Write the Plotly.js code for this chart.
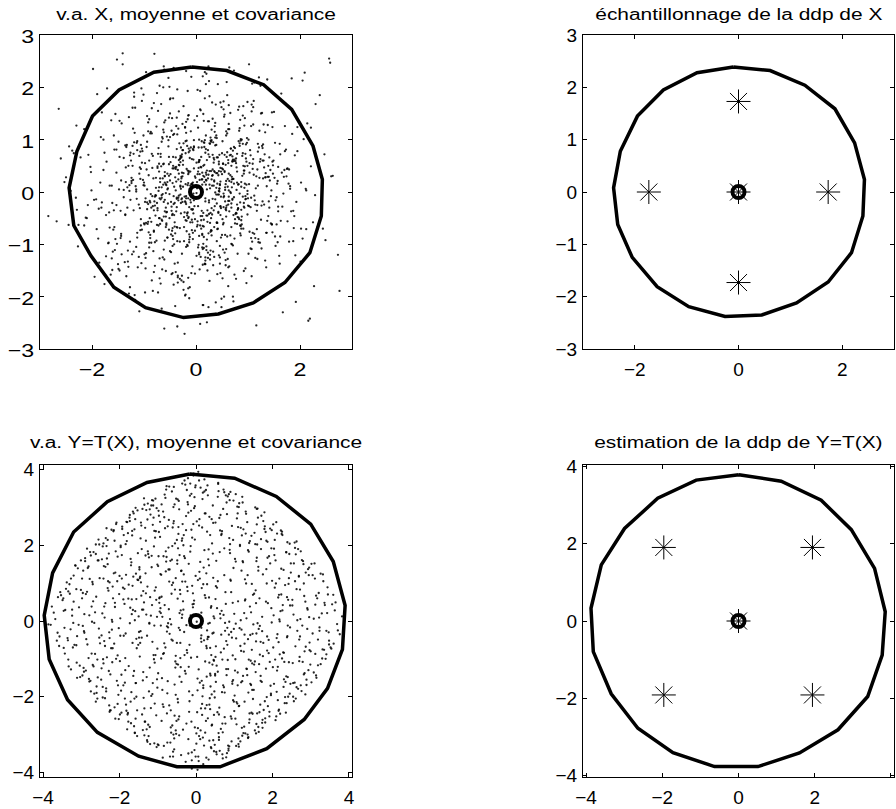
<!DOCTYPE html>
<html>
<head>
<meta charset="utf-8">
<script src="https://cdn.plot.ly/plotly-3.0.1.min.js"></script>
<style>
html,body{margin:0;padding:0;background:#fff;}
#plot{width:896px;height:809px;}
</style>
</head>
<body>
<div id="plot"></div>
<script>
// ---------- titles ----------
const titles = [
  "v.a. X, moyenne et covariance",
  "échantillonnage de la ddp de X",
  "v.a. Y=T(X), moyenne et covariance",
  "estimation de la ddp de Y=T(X)"
];

// ---------- panel 1 : samples of X ----------
const sampleX1 = [
0.12,-0.85,1.34,-0.41,0.67,-1.92,0.03,0.88,-0.27,1.05,-1.48,0.55,-0.66,2.21,-0.09,0.36,-1.13,0.79,-0.58,1.61,
-0.33,0.47,-1.27,0.92,-0.14,1.76,-0.71,0.21,-2.35,0.64,-0.48,1.18,0.06,-0.95,0.39,-1.66,0.83,-0.22,1.42,-0.61,
0.28,-1.04,0.73,-0.17,2.05,-0.79,0.44,-1.39,0.15,0.97,-0.52,1.25,-0.03,-1.81,0.59,-0.36,1.09,-0.88,0.31,-2.64,
0.81,-0.25,1.53,-0.69,0.08,-1.21,0.62,-0.44,1.87,-0.11,0.37,-0.97,0.71,-1.58,0.19,1.12,-0.63,0.49,-1.35,2.47,
-0.07,0.94,-0.54,1.31,-1.73,0.26,-0.39,0.68,-1.01,0.14,1.69,-0.82,0.42,-0.19,1.02,-1.44,0.57,-2.12,0.86,-0.31,
0.35,-0.76,1.19,-0.05,0.63,-1.29,2.38,-0.58,0.11,-0.93,1.46,-0.34,0.77,-1.62,0.02,0.51,-1.07,1.84,-0.46,0.24,
-1.15,0.69,-0.28,1.37,-0.87,0.18,-1.95,0.91,-0.12,0.46,-0.67,1.58,-1.33,0.33,-0.49,0.99,-0.21,2.02,-0.74,0.09,
1.28,-0.37,0.54,-1.52,0.72,-0.15,1.11,-0.99,0.29,-2.41,0.85,-0.56,1.66,-0.08,0.41,-1.24,0.17,-0.72,1.39,-0.43,
0.61,-1.37,0.05,0.93,-0.62,1.73,-0.29,0.38,-1.09,2.29,-0.16,0.74,-0.91,0.27,-1.78,1.07,-0.45,0.56,-0.02,-1.19,
0.43,1.49,-0.81,0.16,-0.53,1.02,-1.41,0.66,-0.24,2.73,-0.68,0.32,1.22,-1.06,0.07,-0.35,0.84,-1.87,0.52,-0.13,
-0.61,0.25,1.81,-0.42,0.96,-1.17,0.13,-0.77,1.33,-0.06,0.48,-2.03,0.71,-0.32,1.14,-0.94,0.22,1.57,-0.55,0.04,
-1.26,0.58,-0.18,0.89,-1.64,0.34,1.08,-0.47,0.19,-0.86,1.95,-0.23,0.65,-1.31,0.45,-0.04,1.26,-0.73,2.16,-0.39,
0.76,-0.13,-1.02,0.53,1.41,-0.64,0.10,-1.49,0.87,-0.30,0.62,1.71,-0.89,0.23,-0.57,1.16,-2.27,0.40,-0.19,0.95,
-0.45,1.03,-0.70,0.30,-1.12,2.11,-0.26,0.78,-0.50,1.47,-1.84,0.14,0.57,-0.37,0.98,-1.00,0.26,-0.62,1.29,-0.09,
0.50,-0.96,1.62,-0.20,0.37,-1.57,0.82,-0.35,1.21,-0.74,0.06,-2.19,0.69,1.38,-0.51,0.20,-1.05,0.60,-0.28,1.85,
-0.83,0.16,-1.36,0.73,0.01,-0.59,1.52,-1.22,0.44,-0.15,0.90,-0.41,2.56,-0.92,0.35,-1.69,0.58,-0.07,1.10,-0.65,
0.27,-1.14,0.79,-0.24,1.93,-0.60,0.12,-0.98,0.64,-1.71,1.17,-0.38,0.47,-0.10,1.55,-0.84,0.30,-1.43,0.72,-2.50,
1.00,-0.52,0.18,-1.28,0.84,-0.08,1.43,-0.66,0.39,-0.28,2.34,-1.08,0.55,-0.44,0.11,1.24,-0.78,0.67,-1.60,0.21,
-0.14,0.87,-1.90,0.42,-0.69,1.14,-0.31,0.70,-1.18,0.09,1.67,-0.55,0.28,-0.99,1.36,-0.17,0.53,-2.08,0.94,-0.40,
0.66,-0.27,1.09,-0.79,0.32,-1.45,0.58,2.42,-0.62,0.15,-1.03,0.80,-0.12,1.28,-0.47,0.40,-1.76,0.92,-0.20,0.46,
-0.90,1.58,-0.36,0.62,-1.20,0.07,0.99,-0.57,1.72,-0.04,-1.53,0.50,-0.76,0.24,1.03,-1.32,0.37,-0.25,2.01,-0.68,
0.19,-0.71,1.27,-0.16,0.48,-2.31,0.75,-0.43,1.51,-0.92,0.31,-0.05,0.87,-1.15,0.13,1.79,-0.60,0.56,-1.47,0.03,
1.12,-0.38,0.60,-1.06,0.22,1.90,-0.83,0.41,-0.22,0.96,-1.67,0.70,-0.49,1.35,-0.11,-1.23,0.68,-0.30,0.17,-2.84,
-0.52,0.85,-0.15,1.20,-1.39,0.46,-0.64,2.25,-0.06,0.59,-0.97,0.30,1.48,-0.70,0.05,-1.82,0.78,-0.33,1.06,0.23,
-0.18,0.71,-1.10,0.39,1.64,-0.45,0.93,-1.55,0.10,-0.80,1.30,-0.26,0.52,-2.15,0.82,-0.58,0.15,1.47,-0.94,0.63,
0.34,-1.30,0.07,1.05,-0.65,0.28,-1.98,0.73,-0.40,1.60,-0.14,0.51,-1.07,0.90,-0.23,2.12,-0.85,0.45,-0.60,1.19,
-1.44,0.55,-0.09,0.81,-0.48,1.40,-1.26,0.20,0.64,-0.73,1.78,-0.37,0.16,-1.61,0.99,-0.19,0.42,-0.96,2.63,-0.27,
0.89,-0.60,0.25,-1.45,1.15,-0.02,0.70,-0.88,1.88,-0.50,0.36,-1.19,0.61,-0.16,1.44,-2.44,0.08,0.77,-0.42,1.01,
-0.75,0.14,1.55,-0.33,0.58,-1.13,0.26,-0.70,1.07,-1.86,0.47,-0.11,0.95,-0.55,2.09,-0.29,0.68,-1.34,0.33,-0.05,
0.44,-1.59,0.86,-0.21,1.33,-0.81,0.04,-0.45,1.70,-1.04,0.53,-0.30,0.23,-2.22,0.79,-0.63,1.23,0.12,-1.28,0.57,
-0.24,1.17,-0.63,0.08,1.91,-1.35,0.42,-0.88,0.19,-0.03,0.74,-1.61,0.31,2.33,-0.47,0.96,-0.12,-1.09,0.55,-0.36,
0.83,-0.19,1.28,-2.07,0.04,0.61,-0.75,1.44,-0.29,0.17,-1.22,0.68,-0.52,1.06,0.26,-1.83,0.47,-0.08,2.58,-0.91,
-0.40,0.33,-1.47,0.92,-0.15,1.63,-0.58,0.11,-0.98,0.79,0.02,-0.34,1.19,-2.29,0.50,-0.70,1.37,-0.22,0.14,-1.13,
0.60,-0.84,0.29,1.76,-0.45,-1.04,0.87,-0.17,0.38,-1.68,1.11,-0.60,0.06,0.73,-2.45,0.45,-0.27,1.52,-0.79,0.21,
-1.31,0.52,-0.10,0.98,-0.66,0.24,2.14,-0.38,0.70,-1.17,0.35,-0.02,1.25,-0.87,0.16,-1.56,0.63,-0.31,1.02,-0.50,
0.18,-1.76,0.77,-0.26,1.39,-0.09,0.48,-0.95,1.68,-0.44,0.09,-1.25,0.57,2.02,-0.61,0.27,-0.11,0.85,-1.39,0.40,
-0.67,1.08,-0.21,0.37,-2.60,0.62,-0.42,1.21,0.03,-0.81,1.58,-0.14,0.46,-1.04,0.90,-0.36,-1.91,0.30,0.74,-0.05,
1.46,-0.55,0.13,-1.19,0.81,-0.32,0.54,2.27,-0.73,0.22,-0.46,1.13,-1.52,0.06,0.69,-0.16,1.33,-0.97,0.39,-0.28,
0.07,0.92,-1.06,0.44,-0.23,1.71,-0.62,0.35,-1.43,0.12,0.80,-0.51,2.49,-0.04,-0.85,0.58,-1.24,0.20,1.05,-0.40,
-0.13,0.67,-0.89,1.50,-0.35,0.05,-1.72,0.95,-0.18,0.41,1.22,-0.68,0.26,-0.07,-2.15,0.75,-0.43,1.87,-0.57,0.14,
0.32,-1.10,0.60,-0.06,1.34,-0.77,0.18,-0.39,0.99,-1.58,0.47,2.19,-0.25,0.64,-0.94,0.10,1.45,-1.29,0.28,-0.60,
-0.48,0.21,1.81,-0.92,0.36,-0.15,0.71,-2.38,0.53,-0.31,1.10,-0.74,0.09,1.61,-0.45,0.25,-1.06,0.50,-0.19,0.88,
0.94,-0.41,0.15,-1.53,0.62,0.01,-0.64,1.29,-0.20,2.60,-0.83,0.43,-1.16,0.31,-0.06,0.78,-1.49,0.19,-0.37,1.16,
-0.26,0.58,-1.21,0.05,1.95,-0.55,0.34,-0.16,0.86,-1.01,0.23,-0.71,1.40,-0.42,0.12,-2.02,0.66,1.07,-0.30,0.47,
0.11,-0.63,1.03,-0.28,0.49,-1.34,0.76,-0.09,-1.81,0.40,1.65,-0.50,0.20,-0.88,1.24,-0.13,0.56,-2.30,0.82,-0.35,
-0.90,0.30,-0.07,1.32,-0.60,0.15,0.91,-1.14,0.44,-0.24,2.07,-0.78,0.52,-0.01,-1.41,0.69,-0.33,1.18,-0.72,0.06,
0.72,-0.20,1.53,-0.49,0.27,-0.99,0.10,-1.63,0.84,-0.12,0.38,1.04,-0.56,0.20,-1.27,2.38,-0.66,0.45,-0.10,-0.81,
-0.34,1.26,-0.74,0.17,-0.05,0.63,-1.88,0.97,-0.39,0.29,-0.94,1.48,0.02,-0.58,0.81,-1.18,0.24,-0.19,1.74,-2.68,
0.55,-0.30,0.04,-1.00,1.12,-0.52,0.39,1.89,-0.82,0.13,-0.44,0.67,-1.36,0.93,-0.15,0.32,2.21,-0.69,0.07,-1.07,
-0.11,0.86,-1.55,0.58,-0.27,1.00,-0.47,0.14,1.36,-0.96,0.25,-0.62,0.71,-0.04,-1.73,1.56,-0.36,0.49,-0.86,0.18,
1.27,-0.68,0.36,-0.13,0.62,-2.10,0.83,-0.41,0.05,1.20,-1.05,0.27,-0.54,1.83,-0.20,0.44,-0.92,0.12,-0.29,0.95,
-0.57,0.09,1.46,-1.32,0.20,-0.37,0.92,-0.80,2.44,-0.14,0.53,-1.50,0.30,-0.65,0.07,1.10,-0.24,0.73,-1.96,0.41,
0.16,-0.98,0.68,-0.19,-1.24,0.51,1.75,-0.43,0.23,-0.75,0.99,-0.06,-1.62,0.35,-0.30,0.88,-0.53,2.05,0.03,-1.15,
-0.08,1.38,-0.50,0.77,-1.47,0.26,-0.20,0.59,-0.90,1.62,-0.38,0.13,-2.53,0.84,-0.66,0.41,1.07,-1.20,0.18,-0.45,
0.87,-0.25,0.46,-1.09,0.15,2.30,-0.79,0.64,-0.33,0.06,-1.36,0.97,-0.12,0.34,-0.61,1.31,-1.78,0.52,-0.17,0.70,
-1.22,0.40,-0.64,1.14,-0.10,0.57,-0.85,1.79,-0.26,0.21,-1.13,0.80,0.01,-0.46,1.47,-0.72,0.29,-1.53,0.64,-0.02,
0.25,-0.43,2.12,-0.70,0.48,-0.16,1.01,-1.27,0.37,-0.58,0.12,1.57,-0.94,0.66,-2.26,0.19,-0.35,0.90,-0.15,1.23,
-0.71,0.17,-1.66,0.53,-0.29,0.85,0.08,-0.51,1.30,-0.90,0.43,-0.21,0.62,1.92,-1.08,0.28,-0.04,-0.77,1.09,-0.37,
0.40,-1.44,0.79,-0.09,0.93,-0.62,0.11,-2.01,0.56,1.41,-0.34,0.24,-0.86,0.02,1.18,-0.53,0.68,-1.30,0.35,2.76,
-0.44,0.63,-0.14,1.06,-0.81,0.32,-1.20,0.47,-0.07,0.75,-1.57,1.35,-0.28,0.10,-0.66,0.91,-0.18,0.54,-1.01,0.22
];
const sampleY1 = [
-0.46,1.12,0.28,-1.37,0.83,-0.14,1.95,-0.62,0.37,-1.08,0.05,0.71,-2.23,0.49,-0.33,1.26,-0.78,0.18,-1.51,0.92,
0.61,-0.27,-1.82,0.35,1.47,-0.56,0.09,-0.91,0.74,2.38,-0.19,0.43,-1.16,0.86,-0.05,-0.68,1.63,-0.39,0.22,-1.29,
1.04,-0.72,0.16,-0.45,2.13,-1.41,0.58,-0.10,0.95,-1.74,0.31,-0.53,1.37,-0.20,0.67,-2.57,0.44,-0.88,0.12,1.59,
-0.31,0.80,-1.03,0.26,-0.64,1.21,-0.17,1.79,-0.94,0.39,-0.01,-1.46,0.62,-0.35,1.08,-0.80,0.53,-2.04,0.19,0.72,
-0.58,1.41,-0.22,0.47,-1.23,0.93,0.03,-0.67,1.86,-0.40,0.29,-1.13,0.66,-0.12,2.44,-0.84,0.15,-0.49,1.01,-1.66,
0.20,-0.93,0.77,-0.08,1.30,-1.94,0.41,-0.30,0.85,-0.61,1.52,-0.16,0.55,-1.27,0.07,0.97,-0.73,2.17,-0.44,0.33,
-1.05,0.24,0.68,-0.55,1.15,-0.18,-1.62,0.50,-0.86,0.13,1.68,-0.37,0.90,-1.40,0.34,-0.04,1.23,-0.70,0.46,-2.36,
0.84,-0.11,1.44,-0.99,0.25,-0.50,1.74,-1.19,0.40,0.02,-0.79,1.06,-0.28,0.63,-1.57,0.17,2.29,-0.64,0.50,-0.23,
0.10,-1.34,0.57,1.27,-0.47,0.81,-0.21,-2.11,0.69,-0.06,1.39,-0.89,0.32,-0.59,1.00,-1.09,0.45,0.04,-0.74,1.90,
-0.38,0.60,-1.53,0.19,0.99,-0.27,2.65,-0.83,0.36,-1.20,0.73,-0.13,1.17,-0.52,0.08,-1.73,0.88,-0.32,0.54,-0.96,
1.33,-0.42,0.11,-1.00,0.64,1.61,-0.65,0.27,-1.31,0.82,-0.09,0.48,-2.00,0.93,-0.24,1.45,-0.57,0.21,-0.87,0.39,
-0.15,1.08,-0.75,0.31,-1.58,0.56,2.07,-0.36,0.14,-0.97,1.24,-0.48,0.70,-1.12,0.01,0.87,-0.26,1.55,-2.46,0.44,
0.59,-0.81,0.23,1.73,-0.30,-1.25,0.47,0.96,-0.54,0.12,-1.80,0.78,-0.17,1.35,-0.63,0.30,-1.04,0.66,2.31,-0.08,
-0.69,0.37,-0.12,1.19,-1.44,0.06,0.80,-0.41,1.50,-0.77,0.18,-2.16,0.52,-0.29,0.94,-0.60,1.83,-1.10,0.26,-0.03,
0.45,-1.17,0.72,-0.20,1.04,-0.67,0.15,-1.63,2.19,-0.35,0.61,-0.92,0.09,1.28,-0.50,0.33,-1.36,0.76,-0.14,1.11,
-1.89,0.29,-0.44,0.86,-0.02,1.37,-0.85,0.50,-1.21,0.17,0.74,-0.58,2.55,-0.23,0.40,-0.98,1.16,-0.34,0.63,-1.48,
0.07,0.94,-0.61,1.64,-0.19,0.38,-1.06,0.55,-0.37,1.98,-0.71,0.20,-1.55,0.85,-0.10,0.46,-0.83,1.31,-2.09,0.28,
-0.26,0.67,-1.38,0.13,1.22,-0.53,0.42,-0.06,0.90,-1.69,0.58,-0.31,1.48,-0.90,0.24,2.03,-0.45,0.71,-1.14,0.05,
0.76,-0.34,1.87,-0.70,0.19,-1.26,0.63,-0.13,1.13,-0.46,-2.30,0.35,0.98,-0.62,0.11,-1.01,1.58,-0.25,0.49,-0.79,
0.32,-1.60,0.54,-0.09,1.40,-0.88,0.21,-0.40,2.40,-0.66,0.78,-1.18,0.06,0.60,-0.28,1.03,-1.76,0.41,-0.54,0.15,
-0.97,0.48,1.10,-0.24,0.73,-1.48,0.02,-0.60,1.69,-0.16,0.37,-0.82,1.25,-2.20,0.55,-0.30,0.89,0.10,-1.33,0.67,
0.23,-0.50,1.51,-1.03,0.39,-0.11,0.84,-1.77,0.27,1.16,-0.43,0.62,-0.70,0.05,2.21,-0.95,0.30,-0.18,1.36,-0.63,
-0.07,1.26,-0.85,0.44,-1.50,0.70,-0.27,0.16,-2.71,0.91,-0.39,0.59,1.79,-0.78,0.12,-1.19,0.50,-0.05,0.99,-0.46,
1.42,-0.20,0.34,-0.96,0.65,-1.37,1.02,-0.58,0.18,2.10,-0.12,-0.74,0.51,-1.65,0.85,-0.30,0.04,1.54,-0.88,0.26,
-0.55,0.79,-1.24,0.36,1.88,-0.42,0.08,-0.90,0.67,-0.18,1.29,-2.39,0.43,-0.64,0.97,0.15,-1.07,0.58,-0.33,1.66,
0.12,-1.43,0.61,-0.29,1.05,-0.76,2.35,-0.10,0.47,-1.22,0.83,-0.52,0.25,1.46,-0.94,0.03,-1.69,0.71,-0.37,0.92,
-0.80,0.38,-0.06,1.57,-1.15,0.29,0.75,-0.45,1.20,-1.92,0.16,-0.67,0.94,-0.21,0.50,-1.05,2.06,-0.59,0.31,-0.12,
0.69,-0.93,1.35,-0.36,0.07,-1.56,0.58,1.12,-0.69,0.22,-0.27,1.82,-1.28,0.41,-0.08,0.87,-2.52,0.64,-0.44,1.00,
-0.21,1.49,-0.62,0.35,-1.09,0.80,0.14,-0.50,1.67,-1.35,0.46,-0.15,0.73,-0.87,2.28,-0.41,0.19,-1.61,0.95,-0.03,
0.53,-0.72,0.98,-1.98,0.28,-0.35,1.23,-0.84,0.42,1.74,-0.59,0.10,-1.16,0.66,-0.24,2.00,-0.97,0.37,0.02,-1.40,
0.93,-0.36,0.14,1.58,-1.21,0.47,-0.05,-0.82,2.06,-0.27,0.62,-1.49,0.31,-0.68,1.17,-0.13,0.79,-2.28,0.40,-0.94,
-0.52,1.34,-0.18,0.71,-1.06,0.25,1.89,-0.60,0.06,-1.38,0.88,-0.30,0.53,-0.11,-1.70,1.05,-0.44,0.16,2.47,-0.77,
0.28,-1.14,0.67,-0.21,1.46,-0.55,-0.02,0.97,-1.92,0.39,-0.66,1.21,0.12,-0.34,0.74,-1.27,2.15,-0.09,0.50,-0.87,
1.12,-0.08,-0.73,0.45,-1.55,0.83,0.19,-0.41,1.67,-0.97,0.33,-0.15,0.58,2.32,-0.63,0.07,-1.18,0.94,-0.26,0.61,
-1.33,0.54,-0.20,1.03,0.09,-0.79,1.31,-0.37,0.68,-2.06,0.22,-0.52,1.50,-0.04,0.86,-1.11,0.35,-0.69,0.15,1.77,
-0.12,0.75,-1.66,0.30,-0.46,2.20,-0.87,0.43,-0.03,1.09,-1.24,0.60,-0.33,0.18,-2.61,0.92,-0.58,1.38,0.04,-0.22,
0.49,-0.95,1.24,-0.14,0.64,-1.44,0.10,0.85,-0.56,1.70,-0.28,0.37,-1.03,0.56,-0.09,1.96,-0.71,0.24,-1.58,0.80,
-0.62,0.19,-1.09,0.95,-0.32,0.51,-0.08,-1.80,0.73,-0.45,1.41,-0.16,2.53,-0.84,0.29,-0.39,1.14,-1.26,0.08,0.66,
0.34,-1.51,0.90,0.02,-0.67,1.26,-0.19,0.62,-1.19,0.14,-0.48,2.01,-0.92,0.45,1.60,-0.30,0.21,-1.04,0.70,-2.18,
-0.29,0.83,-0.50,1.53,-1.35,0.10,0.58,-0.14,0.98,-0.71,0.27,-1.75,0.40,-0.06,1.20,-0.60,2.37,-0.36,0.13,-0.99,
0.71,-0.24,1.85,-0.90,0.36,-0.07,-1.31,0.66,-0.43,1.08,0.20,-2.42,0.52,-0.17,0.96,-0.54,0.03,1.43,-1.12,0.31,
-0.81,0.41,0.06,-0.57,1.15,-1.64,0.25,0.79,-0.10,-0.95,1.62,-0.31,0.48,-1.37,0.17,2.12,-0.64,0.34,-0.23,1.00,
0.16,-0.66,1.36,-0.25,0.55,-1.22,-0.04,0.91,-1.96,0.30,0.69,-0.40,0.11,1.71,-0.78,0.47,-1.47,0.82,-0.13,-2.55,
1.30,-0.47,0.23,-1.01,0.78,0.05,-0.35,1.93,-0.65,0.13,-1.26,0.54,-0.18,1.11,-0.82,0.38,0.00,-1.61,0.69,-0.28,
-0.05,1.19,-0.76,0.29,-2.20,0.86,-0.42,0.15,1.52,-0.59,0.37,-1.13,2.26,-0.20,0.63,-0.91,0.09,1.27,-0.49,0.42,
0.60,-0.31,-1.42,0.72,0.18,-0.86,1.64,-0.13,0.40,-1.72,1.01,-0.06,-0.62,0.27,2.44,-1.00,0.52,-0.25,0.84,-1.19,
-0.44,0.97,-0.16,0.57,-1.29,0.12,-0.70,1.37,-0.03,0.65,-2.33,0.80,-0.38,0.22,-0.95,1.85,-0.53,0.06,1.16,-0.74,
0.24,-1.08,0.49,1.79,-0.41,0.03,-0.89,0.58,-1.53,0.96,-0.20,0.35,1.45,-0.67,0.14,-1.97,0.72,-0.08,0.30,-0.56,
-1.16,0.65,-0.27,0.18,2.09,-0.72,1.08,-0.46,0.26,-1.39,0.50,-0.02,0.89,-0.30,-1.84,0.43,1.23,-0.61,0.10,0.77,
0.05,-0.83,1.49,-0.35,0.72,-0.12,-1.57,0.31,-0.78,2.29,-0.16,0.54,-1.02,0.85,-0.44,0.16,-0.68,1.62,-0.30,-1.25,
0.88,-0.14,0.38,-2.03,0.61,-0.50,1.17,-0.21,0.46,-0.90,1.98,-1.20,0.07,-0.37,0.74,-0.05,1.33,-0.80,0.20,-1.46,
-0.39,1.56,-0.62,0.09,-1.11,0.82,-0.28,2.64,-0.70,0.40,-0.03,-1.38,0.99,-0.55,0.23,1.29,-1.87,0.59,-0.15,0.36,
0.52,-0.19,-0.99,1.13,0.27,-1.65,0.44,-0.08,0.80,-0.63,1.72,-0.33,0.12,-1.24,0.57,-0.47,2.18,-0.89,0.34,0.01,
-0.73,0.29,1.05,-0.40,-1.50,0.67,0.15,-0.26,1.39,-0.85,0.48,-2.16,0.19,0.93,-0.11,-0.59,1.54,-0.35,0.75,-1.03,
0.10,0.60,-1.25,0.35,-0.53,1.68,-0.96,0.21,-0.07,1.00,-0.43,0.14,-1.82,0.65,2.34,-0.24,0.42,-1.10,0.88,-0.15,
1.61,-0.58,0.26,-0.88,0.06,-1.30,0.73,0.43,-0.19,-2.49,0.97,-0.34,0.56,-0.74,1.24,0.02,-0.50,0.81,-1.42,0.30,
-0.20,0.45,-0.71,2.03,-0.31,0.13,-1.18,0.70,1.32,-0.47,0.24,-0.96,0.05,1.51,-0.63,0.37,-1.60,0.92,-0.12,0.58,
0.39,-1.37,0.12,-0.29,0.85,-0.64,1.93,-0.04,0.60,-1.06,0.32,-0.18,1.20,-2.10,0.47,-0.40,0.99,0.08,-0.78,1.42,
-0.94,0.22,0.73,-1.55,0.41,1.14,-0.36,0.03,-0.82,0.66,-0.11,2.40,-0.57,0.19,-1.28,0.87,-0.22,0.50,-0.67,-1.89,
0.67,-0.09,-0.48,1.26,-0.76,0.32,-1.14,1.71,0.14,-0.52,0.81,-1.44,0.26,-0.03,0.96,-0.70,0.44,-2.00,1.08,-0.35
];
const meanX = [0.0], meanY = [0.0];
const covX1 = [-0.08,0.59,1.30,1.84,2.25,2.43,2.41,2.19,1.71,1.10,0.43,-0.24,-0.97,-1.58,-2.02,-2.35,-2.44,-2.29,-1.99,-1.48,-0.81];
const covY1 = [2.39,2.32,2.05,1.58,0.88,0.24,-0.46,-1.16,-1.73,-2.12,-2.33,-2.40,-2.21,-1.82,-1.22,-0.64,0.08,0.78,1.45,1.95,2.29];

// ---------- panel 2 : sigma points of X ----------
const covX2 = [-0.10,0.61,1.28,1.86,2.24,2.43,2.40,2.18,1.73,1.12,0.45,-0.26,-0.96,-1.57,-2.05,-2.33,-2.41,-2.28,-1.95,-1.45,-0.80];
const covY2 = [2.39,2.32,2.04,1.59,0.94,0.24,-0.46,-1.16,-1.72,-2.12,-2.35,-2.38,-2.19,-1.81,-1.25,-0.62,0.08,0.78,1.45,1.95,2.28];
const sigmaX2 = [0, 1.73, -1.73, 0, 0];
const sigmaY2 = [0, 0, 0, 1.73, -1.73];

// ---------- panel 3 : samples of Y = T(X) ----------
const sampleX3 = [
0.12,-0.34,0.45,-0.08,0.27,-0.46,0.03,0.38,-0.21,0.16,-0.41,0.31,-0.13,0.49,-0.29,0.07,-0.37,0.22,-0.02,0.42,
-0.17,0.33,-0.44,0.09,0.24,-0.05,0.47,-0.26,0.14,-0.39,0.36,-0.11,0.19,-0.48,0.04,0.29,-0.31,0.41,-0.19,0.11,
0.02,-0.23,0.39,-0.43,0.18,-0.09,0.34,-0.36,0.26,-0.15,0.44,-0.01,0.21,-0.28,0.13,-0.47,0.06,0.32,-0.12,0.48,
-0.32,0.08,-0.06,0.37,-0.45,0.25,-0.18,0.43,-0.38,0.15,-0.24,0.01,0.28,-0.14,0.46,-0.04,0.35,-0.27,0.20,-0.42,
0.17,-0.07,0.40,-0.33,0.05,-0.49,0.30,-0.20,0.10,-0.40,0.23,-0.16,0.45,-0.03,0.37,-0.25,0.14,-0.44,0.28,-0.10,
-0.30,0.13,-0.47,0.41,-0.11,0.22,-0.36,0.04,0.47,-0.22,0.31,-0.03,0.19,-0.41,0.09,0.35,
0.56,-0.72,0.88,-0.61,0.95,-0.83,0.67,-0.98,0.74,-0.54,0.81,-0.90,0.63,-0.77,0.99,-0.66,0.52,-0.85,0.70,-0.59,
0.91,-0.69,0.60,-0.94,0.78,-0.51,0.86,-0.75,0.65,-0.88,0.53,-0.63,0.97,-0.80,0.71,-0.57,0.84,-0.96,0.58,-0.70,
0.76,-0.93,0.50,-0.65,0.89,-0.55,0.69,-0.86,0.93,-0.73,0.62,-0.99,0.80,-0.60,0.55,-0.81,0.73,-0.53,0.96,-0.68,
0.64,-0.87,0.82,-0.52,0.98,-0.74,0.59,-0.95,0.87,-0.62,0.72,-0.84,0.54,-0.71,0.92,-0.56,0.79,-0.90,0.66,-0.78,
0.83,-0.58,0.61,-0.92,0.51,-0.67,0.94,-0.79,0.68,-0.50,0.77,-0.97,0.57,-0.64,0.85,-0.89,0.74,-0.53,0.90,-0.76,
0.63,-0.82,0.97,-0.60,0.75,-0.91,0.52,-0.70,
1.07,-1.23,1.41,-1.12,1.29,-1.46,1.16,-1.35,1.02,-1.18,1.33,-1.05,1.48,-1.27,1.21,-1.42,1.11,-1.31,1.38,-1.08,
1.25,-1.40,1.13,-1.02,1.45,-1.20,1.36,-1.15,1.04,-1.33,1.19,-1.49,1.30,-1.09,1.44,-1.25,1.10,-1.37,1.27,-1.01,
1.46,-1.14,1.01,-1.44,1.22,-1.29,1.06,-1.38,1.34,-1.06,1.17,-1.21,1.40,-1.48,1.14,-1.03,1.32,-1.19,1.09,-1.35,
1.20,-1.47,1.39,-1.10,1.05,-1.26,1.47,-1.17,1.28,-1.41,1.12,-1.04,1.35,-1.22,1.03,-1.32,1.24,-1.13,1.43,-1.28,
1.15,-1.36,1.08,-1.21,1.37,-1.08,1.26,-1.45,1.18,-1.16,1.49,-1.39,1.00,-1.27,1.31,-1.11,1.42,-1.03,1.23,-1.30,
1.56,-1.73,1.88,-1.62,1.97,-1.84,1.68,-1.51,1.79,-1.95,1.61,-1.69,1.92,-1.58,1.75,-1.87,1.53,-1.78,1.84,-1.65,
1.71,-1.55,1.95,-1.81,1.64,-1.99,1.52,-1.71,1.86,-1.60,1.99,-1.76,1.59,-1.90,1.67,-1.53,1.81,-1.67,1.90,-1.83,
1.63,-1.94,1.77,-1.57,1.50,-1.72,1.94,-1.86,1.58,-1.63,1.73,-1.54,1.85,-1.80,1.69,-1.98,1.55,-1.66,1.80,-1.52,
1.96,-1.61,1.54,-1.89,1.74,-1.70,1.66,-1.56,1.91,-1.77,1.60,-1.97,1.83,-1.59,1.70,-1.85,1.57,-1.74,1.98,-1.64,
1.59,-1.82,1.87,-1.58,1.76,-1.93,1.65,-1.68,
2.05,-2.24,2.41,-2.13,2.32,-2.47,2.18,-2.02,2.28,-2.37,2.10,-2.19,2.45,-2.31,2.14,-2.42,2.22,-2.06,2.38,-2.27,
2.20,-2.12,2.48,-2.35,2.03,-2.44,2.30,-2.16,2.12,-2.03,2.43,-2.28,2.26,-2.40,2.08,-2.22,2.36,-2.09,2.16,-2.33,
2.46,-2.15,2.01,-2.38,2.25,-2.05,2.39,-2.46,2.17,-2.26,2.33,-2.11,2.06,-2.36,2.29,-2.48,2.11,-2.20,2.42,-2.01,
2.34,-2.07,2.19,-2.30,2.04,-2.42,2.27,-2.18,2.13,-2.34,2.40,-2.25,2.09,-2.14,2.44,-2.39,
2.56,-2.73,2.91,-2.62,2.84,-2.98,2.67,-2.53,2.78,-2.88,2.61,-2.70,2.95,-2.58,2.74,-2.93,2.52,-2.81,2.87,-2.66,
2.70,-2.55,2.82,-2.95,2.60,-2.76,2.99,-2.64,2.58,-2.85,2.76,-2.51,2.89,-2.72,2.63,-2.90,2.80,-2.60,2.96,-2.78,
2.65,-2.87,2.97,-2.68,2.54,-2.92,2.72,-2.57,2.86,-2.75,2.93,-2.62,2.59,-2.97,2.69,-2.80,2.53,-2.69,2.83,-2.54,
3.05,-3.18,3.37,-3.09,3.26,-3.44,3.12,-3.31,3.47,-3.03,3.21,-3.38,3.15,-3.24,3.41,-3.12,3.33,-3.49,3.08,-3.27,
3.29,-3.06,3.19,-3.35,3.02,-3.15,3.44,-3.21,3.10,-3.42,3.35,-3.01,3.23,-3.46,3.14,-3.30,3.48,-3.11,3.32,-3.20,
3.56,-3.62,3.71,-3.53,3.82,-3.77,3.60,-3.68,3.65,-3.86,3.54,-3.58,
-0.04,0.29,-0.37,0.15,-0.21,0.46,-0.12,0.34,-0.48,0.07,0.23,-0.30,0.41,-0.16,0.02,-0.43,0.18,-0.26,0.37,-0.09,
0.44,-0.19,0.06,-0.35,0.27,-0.01,0.49,-0.28,0.12,-0.45,0.32,-0.07,0.21,-0.40,0.09,0.38,-0.24,0.16,-0.47,0.26,
-0.14,0.35,-0.32,0.03,0.47,-0.22,0.13,-0.42,0.30,-0.05,0.19,-0.38,0.42,-0.11,0.25,-0.46,0.08,-0.29,0.36,-0.17,
0.11,-0.41,0.24,-0.02,0.40,-0.33,0.05,-0.18,0.45,-0.25,0.33,-0.08,0.17,-0.49,0.28,-0.13,0.39,-0.36,0.10,-0.20,
0.31,-0.06,0.48,-0.44,0.16,-0.27,0.37,-0.15,0.01,-0.34,0.22,-0.48,0.43,-0.10,0.14,-0.39,0.27,-0.03,0.35,-0.23,
0.19,-0.31,0.04,0.40,-0.46,0.29,-0.12,0.46,-0.36,0.08,-0.20,0.33,-0.01,0.24,-0.43,0.14,
-0.58,0.71,-0.92,0.60,-0.79,0.94,-0.66,0.83,-0.51,0.77,-0.98,0.54,-0.73,0.89,-0.62,0.67,-0.86,0.50,-0.70,0.96,
-0.84,0.57,-0.61,0.92,-0.53,0.74,-0.95,0.65,-0.77,0.52,-0.68,0.87,-0.56,0.79,-0.93,0.62,-0.72,0.99,-0.64,0.81,
0.69,-0.55,0.85,-0.99,0.58,-0.76,0.91,-0.63,0.73,-0.88,0.51,-0.80,0.97,-0.57,0.64,-0.91,0.78,-0.52,0.86,-0.67,
0.55,-0.90,0.75,-0.59,0.93,-0.71,0.61,-0.83,0.88,-0.54,0.70,-0.96,0.53,-0.74,0.82,-0.60,0.95,-0.78,0.66,-0.87,
0.98,-0.63,0.51,-0.85,0.72,-0.50,0.84,-0.69,0.60,-0.97,0.79,-0.56,0.90,-0.75,0.57,-0.82,0.68,-0.59,0.76,-0.94,
0.80,-0.65,0.59,-0.98,0.69,-0.53,0.87,-0.76,
-1.04,1.22,-1.43,1.11,-1.30,1.47,-1.15,1.34,-1.01,1.19,-1.36,1.06,-1.48,1.27,-1.20,1.41,-1.10,1.31,-1.39,1.08,
-1.26,1.39,-1.12,1.00,-1.46,1.21,-1.33,1.16,-1.05,1.35,-1.18,1.48,-1.29,1.09,-1.44,1.24,-1.09,1.37,-1.27,1.02,
-1.45,1.13,-1.00,1.45,-1.23,1.28,-1.07,1.38,-1.34,1.05,-1.16,1.20,-1.41,1.49,-1.13,1.04,-1.31,1.18,-1.08,1.36,
-1.21,1.46,-1.38,1.10,-1.06,1.26,-1.47,1.17,-1.28,1.42,-1.11,1.03,-1.35,1.23,-1.02,1.32,-1.24,1.12,-1.42,1.29,
-1.14,1.36,-1.09,1.21,-1.38,1.09,-1.25,1.44,-1.17,1.15,-1.49,1.40,-1.01,1.27,-1.32,1.12,-1.43,1.04,-1.22,1.30,
-1.57,1.74,-1.89,1.62,-1.96,1.83,-1.67,1.52,-1.80,1.94,-1.60,1.70,-1.93,1.57,-1.76,1.86,-1.54,1.79,-1.85,1.64,
-1.70,1.56,-1.94,1.80,-1.65,1.98,-1.51,1.72,-1.87,1.61,-1.99,1.75,-1.58,1.90,-1.68,1.54,-1.82,1.66,-1.91,1.84,
-1.62,1.93,-1.78,1.58,-1.50,1.73,-1.95,1.87,-1.59,1.63,-1.73,1.55,-1.84,1.81,-1.69,1.97,-1.56,1.67,-1.79,1.51,
-1.97,1.60,-1.53,1.88,-1.73,1.69,-1.66,1.57,-1.90,1.76,-1.61,1.96,-1.83,1.58,-1.71,1.85,-1.56,1.73,-1.98,1.63,
-1.60,1.82,-1.86,1.59,-1.77,1.92,-1.64,1.69,
-2.04,2.23,-2.40,2.14,-2.31,2.46,-2.19,2.02,-2.29,2.36,-2.11,2.18,-2.44,2.30,-2.15,2.41,-2.23,2.07,-2.37,2.26,
-2.21,2.11,-2.47,2.36,-2.02,2.45,-2.31,2.17,-2.13,2.04,-2.42,2.29,-2.27,2.39,-2.08,2.23,-2.35,2.10,-2.17,2.33,
-2.45,2.16,-2.00,2.38,-2.26,2.06,-2.38,2.47,-2.18,2.25,-2.34,2.12,-2.05,2.37,-2.28,2.48,-2.10,2.21,-2.43,2.02,
-2.33,2.08,-2.20,2.31,-2.05,2.43,-2.26,2.19,-2.12,2.35,-2.41,2.24,-2.09,2.15,-2.44,2.40,
-2.57,2.72,-2.92,2.63,-2.83,2.97,-2.68,2.54,-2.79,2.87,-2.62,2.71,-2.94,2.59,-2.75,2.92,-2.53,2.82,-2.88,2.67,
-2.71,2.56,-2.81,2.94,-2.61,2.77,-2.98,2.65,-2.58,2.84,-2.77,2.52,-2.90,2.73,-2.64,2.89,-2.79,2.61,-2.96,2.79,
-2.66,2.86,-2.96,2.69,-2.55,2.91,-2.73,2.58,-2.85,2.74,-2.93,2.63,-2.60,2.96,-2.70,2.81,-2.52,2.70,-2.84,2.55,
-3.04,3.17,-3.36,3.08,-3.27,3.43,-3.13,3.30,-3.46,3.02,-3.22,3.39,-3.16,3.23,-3.40,3.11,-3.34,3.48,-3.07,3.26,
-3.28,3.05,-3.20,3.36,-3.01,3.14,-3.43,3.22,-3.11,3.41,-3.34,3.00,-3.24,3.45,-3.13,3.31,-3.47,3.12,-3.33,3.19,
-3.57,3.63,-3.72,3.52,-3.80,3.76,-3.61,3.69,-3.64,3.87,-3.55,3.59
];
const sampleY3 = [
3.52,-2.87,1.14,0.36,-3.61,2.48,-0.95,-1.73,3.08,-2.19,0.71,-0.42,2.91,-3.27,1.66,-1.28,0.08,3.74,-3.85,2.05,
-0.63,1.89,-2.52,3.86,-1.07,0.54,-3.44,2.77,-0.18,1.32,-2.04,-3.68,0.97,3.21,-1.52,2.36,-0.29,-2.76,1.51,-3.12,
2.63,-0.84,-3.33,0.21,3.39,-1.96,0.62,2.18,-2.64,3.63,1.78,-3.58,-0.51,1.04,-2.31,-1.15,3.94,-0.07,2.41,-1.86,
1.23,-3.04,0.45,-1.39,3.17,2.84,-2.40,-0.33,-1.61,0.87,3.46,-2.97,-0.72,1.98,0.12,3.27,-2.21,-3.72,1.41,-0.24,
-1.99,2.56,-0.90,0.30,-2.83,1.60,3.58,-3.50,1.12,-1.22,0.68,-0.12,-3.15,3.03,2.27,-2.71,-0.55,2.95,-1.47,0.93,
3.71,-0.46,-2.15,2.69,-3.90,1.87,0.17,-1.83,-2.48,0.79,3.32,2.15,-3.78,-0.98,1.30,-1.10,
-2.41,1.36,3.19,-0.52,-1.66,2.74,0.27,-3.28,1.92,-1.07,-3.49,0.64,2.39,3.56,-0.21,-2.81,0.92,1.71,-3.63,2.58,
1.06,-0.34,-3.07,2.22,0.45,-2.64,3.35,-1.91,-0.83,0.11,1.59,3.42,-2.09,-0.70,2.96,-3.39,-1.27,0.48,3.65,-2.23,
-0.05,1.24,-1.44,-2.95,2.03,0.83,-3.52,2.89,-2.58,-0.17,1.82,-1.38,3.13,-3.58,0.34,2.45,-1.75,1.13,-0.91,0.05,
2.80,-2.20,-0.63,3.23,1.40,-1.59,-2.96,0.25,-3.31,1.98,3.47,-0.85,-1.18,2.67,0.76,-2.50,-3.60,3.08,-0.36,1.57,
-1.03,3.54,-2.29,-0.12,0.58,-3.21,2.51,1.84,-1.88,-0.58,-2.71,2.35,3.28,0.72,-3.42,-1.51,1.21,-2.89,3.41,-0.28,
0.19,3.34,2.14,-3.45,-2.54,-0.99,-1.61,1.04,
2.71,-1.86,0.38,3.05,-2.97,1.17,-0.66,-3.02,1.64,0.14,-1.27,2.37,-2.45,0.91,3.28,-0.44,-3.25,2.12,1.83,-1.10,
-0.81,2.96,-2.24,-1.54,2.25,0.63,-3.09,3.19,-0.07,-2.66,1.33,-0.29,2.89,-3.23,-1.69,1.77,0.52,-2.03,-0.36,1.49,
0.98,-0.55,-1.97,2.60,3.13,-2.86,-2.73,0.30,-1.43,3.23,2.46,-1.23,-2.60,1.42,-0.19,-3.33,0.07,2.81,-1.36,-2.31,
-2.82,-0.94,2.06,1.97,-0.46,3.10,-1.82,-1.98,1.10,-2.47,3.01,0.56,-3.00,-0.07,-1.01,1.26,2.42,2.54,-1.05,-3.15,
1.98,0.49,-2.18,-2.80,-3.07,0.80,0.21,2.18,-1.62,1.72,0.69,-1.57,-2.38,-3.19,2.83,-0.90,-0.37,2.98,-1.45,0.17,
-1.35,2.64,0.47,-2.78,1.92,-0.33,-2.21,1.08,2.87,-1.42,-0.06,-1.88,-2.52,2.99,-0.93,0.85,2.33,-2.43,1.37,0.29,
2.78,-0.72,-1.71,2.11,-2.93,-2.47,0.72,1.64,-0.41,-2.96,1.06,-1.19,1.67,0.57,-0.13,2.92,-2.68,2.38,-0.85,-2.21,
1.33,1.12,-2.35,-1.64,-0.09,0.35,2.44,-1.63,-2.72,2.84,0.11,-3.04,-2.01,2.61,-1.58,-0.39,2.03,0.93,2.50,1.79,
-1.96,-2.05,-1.07,2.27,-2.82,1.47,0.60,-0.47,1.71,-2.66,-2.44,1.95,-1.26,0.26,2.16,-0.98,-0.54,2.73,-0.04,-1.45,
2.96,-2.37,2.09,-2.58,-0.58,2.43,-1.14,0.57,
1.74,-1.41,0.56,2.12,-2.17,-0.38,1.12,-2.59,-0.83,1.43,2.61,-0.02,-1.92,0.87,-1.21,2.05,2.39,1.05,-0.43,-2.23,
-2.45,0.48,1.28,-1.78,0.15,-2.02,-1.54,2.37,2.31,-1.95,-1.09,1.78,0.28,0.38,-2.62,-0.72,1.82,2.56,-0.56,-0.96,
-0.17,2.40,-1.22,-0.66,-0.99,-0.91,2.08,1.63,0.69,-2.40,-2.01,1.28,2.14,2.19,1.35,-1.55,-1.87,-0.23,0.98,0.71,
-1.61,-1.58,-0.01,1.05,-1.66,-1.12,0.42,0.91,-0.35,2.45,-1.48,-2.36,0.99,-0.60,1.77,0.09,
1.52,-0.86,0.34,1.77,-1.38,0.60,-1.79,2.02,-0.12,-1.31,-2.05,0.97,1.21,-1.02,1.84,-0.27,0.41,1.44,-0.68,-1.92,
-1.06,2.15,0.99,1.33,-0.67,-1.58,-1.15,0.23,2.07,0.77,-1.85,-0.59,-1.69,-0.02,0.84,1.58,1.58,-1.73,0.10,1.11,
0.02,-0.48,-0.77,-1.20,-1.64,0.18,-0.41,1.60,-1.94,1.73,1.37,-2.13,1.93,-1.44,1.19,-1.53,-1.11,0.52,0.66,-0.20,
1.21,-0.63,0.42,1.39,-1.14,-0.18,-0.87,0.97,-0.30,-1.48,0.74,1.02,-1.50,0.14,-0.88,-1.10,1.05,0.55,0.06,-1.28,
0.20,0.36,-0.49,-0.51,-1.62,1.46,0.89,-0.05,1.52,0.29,-0.76,0.82,-0.26,-0.71,0.67,0.72,-0.62,-0.40,1.23,1.20,
0.44,-0.31,-0.25,0.68,0.12,0.38,-0.60,0.05,0.49,-0.09,-0.73,-0.66,
-3.41,0.97,2.12,-1.58,3.77,-0.31,-2.66,1.47,0.59,-3.70,2.84,-0.90,-1.94,3.31,-0.02,1.74,-3.08,2.40,-2.33,0.44,
3.05,-1.21,-3.58,2.56,-0.66,1.19,-2.02,3.60,-2.89,-0.18,1.63,3.84,-3.29,0.28,2.69,-1.44,-0.77,-2.48,1.92,3.46,
0.15,-3.16,2.27,-2.41,-1.05,3.14,-3.83,0.82,-0.48,2.98,-1.70,1.33,-2.74,-3.47,0.61,2.30,3.71,-1.32,-0.05,-2.12,
1.56,-0.58,-2.95,3.53,-3.36,2.00,1.08,-1.86,2.59,-0.11,-3.66,0.73,3.22,1.51,-2.22,-0.97,0.35,3.63,-1.63,2.86,
-2.57,3.89,0.07,-3.02,2.47,-1.39,-0.71,1.83,-3.24,0.52,3.42,-2.06,-1.15,2.20,-0.38,-3.54,1.26,-2.81,2.75,0.90,
-1.77,1.71,-3.93,0.39,-2.60,-0.25,3.36,-1.03,1.04,2.52,-3.12,-0.42,3.58,-2.31,-1.47,0.22,
2.64,-1.70,0.21,-3.14,1.31,-0.44,-2.36,3.29,-1.13,0.76,2.91,-3.52,-0.06,1.79,-2.76,2.30,-0.87,-1.40,3.55,0.48,
-3.30,1.05,2.47,-0.29,-1.95,3.40,0.62,-2.85,1.69,-0.67,-3.58,2.19,3.08,-1.27,0.34,-3.43,1.94,-2.13,-0.49,2.82,
-1.02,2.05,-3.37,1.45,3.62,-0.14,-2.52,0.95,-0.73,-1.82,2.60,3.25,-1.56,-3.10,0.07,1.22,3.32,-2.98,-0.36,1.59,
0.88,-2.64,-1.89,3.01,-3.18,0.31,2.72,-0.59,1.88,-1.23,-2.94,0.60,-3.46,2.50,-0.18,1.01,-1.60,3.47,2.27,-3.61,
3.18,1.62,-0.95,-2.27,0.16,2.14,-3.29,1.36,-2.47,2.78,-0.53,-1.68,1.09,-3.21,-1.34,0.42,2.37,-3.00,-0.26,2.62,
-1.43,-0.09,3.43,1.71,-2.71,-0.92,-0.02,-2.44,
-2.49,1.58,0.67,-3.10,2.93,-1.12,0.42,2.61,-1.76,-0.23,3.24,-2.14,1.36,-0.60,-3.25,2.11,-1.01,0.99,-2.88,3.02,
1.84,-2.69,3.18,0.19,-0.58,-1.59,2.46,-3.18,0.89,1.21,-2.30,-0.34,-1.48,2.84,1.02,-2.96,-0.12,-1.89,2.68,-1.31,
-0.27,3.11,-3.26,-2.42,1.68,0.54,2.20,-1.02,-2.66,-3.30,1.42,2.26,0.30,-2.06,-1.64,3.35,0.73,-0.79,-2.18,1.87,
2.95,-0.76,-1.35,2.48,-0.90,-2.79,1.13,0.02,-0.39,-1.66,2.73,-2.58,3.07,1.55,0.11,-1.26,-3.04,-2.25,1.90,0.57,
-1.93,-0.48,2.38,-3.03,0.79,-1.70,-2.74,0.23,3.05,2.01,-0.44,-2.44,-0.73,-2.13,1.73,-3.32,2.52,1.57,-0.05,2.31,
1.25,-2.61,-0.39,2.73,-1.84,0.51,2.26,-1.15,-2.86,1.52,0.02,1.90,2.49,-2.97,0.96,-0.78,-2.36,2.43,-1.30,-0.21,
-2.70,0.81,1.74,-2.12,2.89,2.40,-0.63,-1.61,0.45,2.97,-1.06,1.23,-1.64,-0.50,0.18,-2.89,2.62,-2.41,0.88,2.12,
-1.32,-1.08,2.32,1.58,0.12,-0.27,-2.42,1.67,2.69,-2.80,-0.06,3.00,2.03,-2.57,1.55,0.34,-2.00,-0.89,-2.47,-1.82,
1.99,2.02,1.09,-2.25,2.80,-1.45,-0.58,0.47,-1.70,2.64,2.42,-1.92,1.22,-0.33,-2.13,0.99,0.58,-2.69,0.07,1.43,
-2.95,2.35,-2.05,2.55,0.59,-2.40,1.17,-0.55,
-1.70,1.38,-0.53,-2.09,2.14,0.41,-1.09,2.55,0.80,-1.46,-2.58,0.04,1.97,-0.84,1.26,-2.00,-2.36,-1.02,0.47,2.27,
2.41,-0.45,-1.25,1.81,-0.19,2.04,1.50,-2.34,-2.28,1.91,1.12,-1.74,-0.30,-0.40,2.60,0.70,-1.86,-2.52,0.60,0.95,
0.20,-2.37,1.19,0.63,1.02,0.88,-2.04,-1.66,-0.72,2.36,1.98,-1.31,-2.19,-2.17,-1.32,1.52,1.84,0.26,-1.01,-0.70,
1.65,1.60,0.03,-1.08,1.70,1.13,-0.45,-0.88,0.37,-2.42,1.45,2.30,-1.00,0.62,-1.74,-0.12,
-1.49,0.83,-0.31,-1.75,1.40,-0.57,1.82,-2.00,0.15,1.28,2.02,-0.95,-1.24,1.05,-1.86,0.30,-0.44,-1.41,0.71,1.90,
1.03,-2.12,-0.98,-1.30,0.64,1.61,1.12,-0.26,-2.05,-0.80,1.82,0.56,1.66,0.05,-0.87,-1.55,-1.60,1.76,-0.13,-1.08,
-0.05,0.51,0.74,1.17,1.60,-0.21,0.38,-1.63,1.91,-1.70,-1.34,2.10,-1.90,1.41,-1.16,1.50,1.13,-0.49,-0.62,0.17,
-1.18,0.60,-0.45,-1.36,1.12,0.21,0.84,-0.99,0.27,1.51,-0.70,-1.00,1.47,-0.17,0.85,1.12,-1.02,-0.52,-0.10,1.25,
-0.22,-0.33,0.51,0.48,1.60,-1.44,-0.86,0.09,-1.50,-0.26,0.78,-0.80,0.30,0.70,-0.64,-0.75,0.60,0.43,-1.20,-1.17,
-0.41,0.28,0.22,-0.70,-0.10,-0.35,0.63,-0.08,-0.52,0.07,0.76,0.69
];
const covX3 = [-0.16,1.01,2.10,3.00,3.59,3.90,3.83,3.44,2.83,1.85,0.63,-0.50,-1.50,-2.58,-3.36,-3.84,-3.97,-3.75,-3.20,-2.32,-1.28];
const covY3 = [3.88,3.77,3.29,2.56,1.57,0.41,-0.75,-1.78,-2.60,-3.37,-3.85,-3.85,-3.57,-2.94,-2.08,-1.01,0.15,1.27,2.35,3.15,3.66];

// ---------- panel 4 : transformed sigma points ----------
const covX4 = [0.01,1.12,2.17,2.96,3.57,3.85,3.77,3.39,2.61,1.60,0.51,-0.63,-1.72,-2.64,-3.34,-3.81,-3.87,-3.60,-2.99,-2.12,-1.11];
const covY4 = [3.78,3.61,3.12,2.36,1.36,0.24,-0.88,-1.95,-2.81,-3.41,-3.76,-3.76,-3.40,-2.77,-1.88,-0.79,0.33,1.45,2.39,3.17,3.64];
const sigmaX4 = [0, 1.94, -1.96, 1.94, -1.96];
const sigmaY4 = [0, 1.90, 1.90, -1.91, -1.91];

// ---------- build ----------
const close = a => a.concat([a[0]]);
const dotStyle = {size: 2.3, color: 'rgba(0,0,0,0.85)'};
const covLine = {color: '#000', width: 3.5};
const ring = {symbol: 'circle-open', size: 12, color: '#000', line: {width: 4, color: '#000'}};
const star = {symbol: 'asterisk-open', size: 20, color: '#000', line: {width: 1, color: '#000'}};

const traces = [
  {x: sampleX1, y: sampleY1, xaxis: 'x', yaxis: 'y', mode: 'markers', marker: dotStyle, type: 'scatter'},
  {x: close(covX1), y: close(covY1), xaxis: 'x', yaxis: 'y', mode: 'lines', line: covLine, type: 'scatter'},
  {x: meanX, y: meanY, xaxis: 'x', yaxis: 'y', mode: 'markers', marker: ring, type: 'scatter'},

  {x: close(covX2), y: close(covY2), xaxis: 'x2', yaxis: 'y2', mode: 'lines', line: covLine, type: 'scatter'},
  {x: sigmaX2, y: sigmaY2, xaxis: 'x2', yaxis: 'y2', mode: 'markers', marker: star, type: 'scatter'},
  {x: meanX, y: meanY, xaxis: 'x2', yaxis: 'y2', mode: 'markers', marker: ring, type: 'scatter'},

  {x: sampleX3, y: sampleY3, xaxis: 'x3', yaxis: 'y3', mode: 'markers', marker: dotStyle, type: 'scatter'},
  {x: close(covX3), y: close(covY3), xaxis: 'x3', yaxis: 'y3', mode: 'lines', line: covLine, type: 'scatter'},
  {x: meanX, y: meanY, xaxis: 'x3', yaxis: 'y3', mode: 'markers', marker: ring, type: 'scatter'},

  {x: close(covX4), y: close(covY4), xaxis: 'x4', yaxis: 'y4', mode: 'lines', line: covLine, type: 'scatter'},
  {x: sigmaX4, y: sigmaY4, xaxis: 'x4', yaxis: 'y4', mode: 'markers', marker: star, type: 'scatter'},
  {x: meanX, y: meanY, xaxis: 'x4', yaxis: 'y4', mode: 'markers', marker: ring, type: 'scatter'}
];

const W = 896, H = 809;
const fontFam = 'Liberation Sans, Arial, Helvetica, sans-serif';
function ax(domainPx, range, dtick, isY, anchor) {
  const d = isY ? [(H - domainPx[1]) / H, (H - domainPx[0]) / H] : [domainPx[0] / W, domainPx[1] / W];
  return {
    domain: d, range: range, dtick: dtick, tick0: 0, anchor: anchor,
    showline: true, linecolor: '#000', linewidth: 1, mirror: 'allticks',
    ticks: 'inside', ticklen: 4, tickwidth: 1, tickcolor: '#000',
    showgrid: false, zeroline: false, fixedrange: true,
    tickfont: {family: fontFam, size: 19, color: '#000'},
    ticklabelstandoff: isY ? 1 : 3
  };
}
const layout = {
  width: W, height: H, showlegend: false,
  margin: {l: 0, r: 0, t: 0, b: 0},
  paper_bgcolor: '#fff', plot_bgcolor: '#fff',
  xaxis:  ax([40, 352], [-3, 3], 2, false, 'y'),
  yaxis:  ax([35, 349], [-3, 3], 1, true, 'x'),
  xaxis2: ax([583, 894], [-3, 3], 2, false, 'y2'),
  yaxis2: ax([35, 349], [-3, 3], 1, true, 'x2'),
  xaxis3: ax([40, 352], [-4.08, 4.08], 2, false, 'y3'),
  yaxis3: ax([465, 777], [-4.12, 4.12], 2, true, 'x3'),
  xaxis4: ax([583, 894], [-4.08, 4.08], 2, false, 'y4'),
  yaxis4: ax([465, 777], [-4.03, 4.03], 2, true, 'x4'),
  annotations: titles.map((t, i) => ({
    text: t, showarrow: false,
    xref: (i === 0 ? 'x' : 'x' + (i + 1)) + ' domain',
    yref: (i === 0 ? 'y' : 'y' + (i + 1)) + ' domain',
    x: 0.5, y: 1, xanchor: 'center', yanchor: 'bottom',
    yshift: i < 2 ? 10 : 12,
    font: {family: fontFam, size: 16, color: '#000'}
  }))
};

// widen a text element horizontally about its centre (or its right edge), optional vertical nudge
function widen(el, k, aboutRight, dy) {
  const b = el.getBBox();
  if (!b.width) return;
  const ox = aboutRight ? b.x + b.width : b.x + b.width / 2;
  const prev = el.getAttribute('transform') || '';
  el.setAttribute('transform', (prev + ' matrix(' + k + ',0,0,1,' + (ox * (1 - k)).toFixed(2) + ',' + (dy || 0) + ')').trim());
}

Plotly.newPlot('plot', traces, layout, {staticPlot: true, displayModeBar: false}).then(gd => {
  // reference lettering is wider than Helvetica/Arial at the same height
  const heads = Array.from(gd.querySelectorAll('text.annotation-text'));
  const w0 = heads.length ? heads[0].getBBox().width : 0;
  const kTitle = w0 ? 280 / w0 : 1.3;
  heads.forEach(t => widen(t, kTitle, false, 0));
  gd.querySelectorAll('g.xtick text').forEach(t => widen(t, 1.22, false, 0));
  gd.querySelectorAll('g.ytick text').forEach(t => widen(t, 1.22, true, 1.5));
});
</script>
</body>
</html>
